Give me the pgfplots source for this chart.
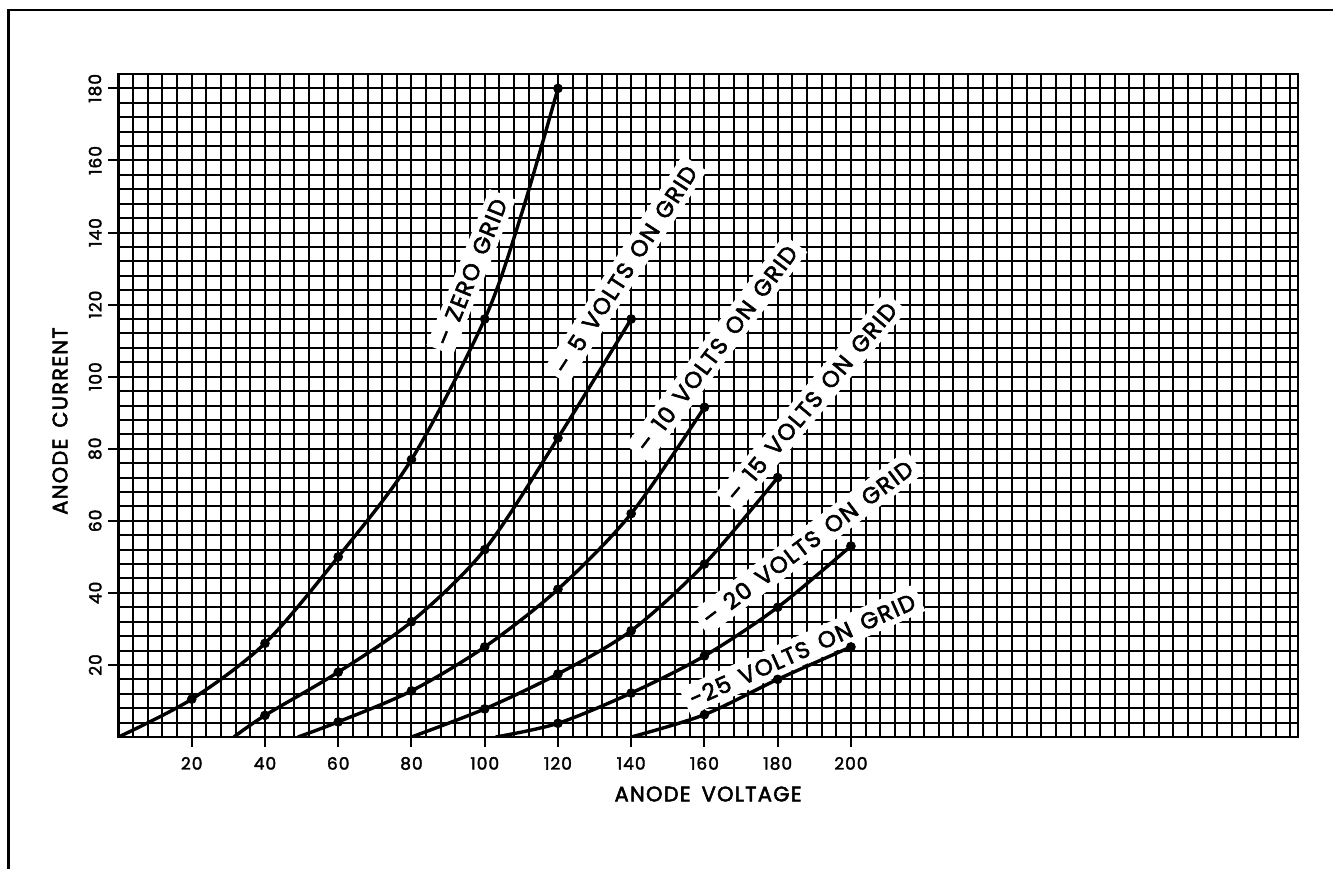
\documentclass[border=0pt]{standalone}
\usepackage{pgfplots}
\pgfplotsset{compat=1.18}
\usepackage{fontspec}
\setmainfont{Poppins}
\newfontfamily\labfont{Poppins}[FakeBold=2.5, LetterSpace=6]
\newfontfamily\axlabfont{Poppins}[FakeBold=2.5, LetterSpace=6]
\newfontfamily\tickfont{Poppins}[FakeBold=2.2, LetterSpace=6]
\newcommand{\gap}{\hspace{5.5pt}}
\begin{document}
\begin{tikzpicture}[x=1pt,y=1pt]
\path[use as bounding box] (0,0) rectangle (666.5,434.5);
\draw[line width=1.2pt] (4.2,0) -- (4.2,429.5) -- (666.5,429.5);
\begin{axis}[
  at={(59.25pt,66pt)}, anchor=south west,
  scale only axis, width=589.6pt, height=331.5pt,
  xmin=0, xmax=322, ymin=0, ymax=184,
  xtick={20,40,...,200}, ytick={20,40,...,180},
  minor xtick={0,4,...,320}, minor ytick={0,4,...,184},
  grid=both,
  minor grid style={black, line width=1.0pt},
  major grid style={black, line width=1.0pt},
  axis line style={line width=1.2pt},
  tick pos=left, tick align=outside,
  major tick length=5pt, minor tick length=0pt,
  tick style={black, line width=1.0pt},
  /pgf/number format/assume math mode=true,
  ticklabel style={font=\fontsize{8.5}{10}\tickfont},
  yticklabel style={rotate=90, anchor=south},
  xticklabel style={yshift=-1.5pt},
  xlabel={ANODE\gap VOLTAGE}, ylabel={ANODE\gap CURRENT},
  label style={font=\fontsize{10.5}{12}\axlabfont},
  xlabel style={at={(axis description cs:0.5,-0.086)}, anchor=center},
  ylabel style={at={(axis description cs:-0.0496,0.4766)}, anchor=center},
]
% zero grid
\addplot[black, line width=1.7pt, smooth] coordinates {(0,0)(20,10.5)(40,26)(60,50)(80,77)(100,116)(110,145)(120,180)};
\addplot[black, only marks, mark=*, mark size=2.2pt] coordinates {(20,10.5)(40,26)(60,50)(80,77)(100,116)(120,180)};
% -5
\addplot[black, line width=1.7pt, smooth] coordinates {(31.5,0)(40,6)(60,18)(80,32)(100,52)(120,83)(140,116)};
\addplot[black, only marks, mark=*, mark size=2.2pt] coordinates {(40,6)(60,18)(80,32)(100,52)(120,83)(140,116)};
% -10
\addplot[black, line width=1.7pt, smooth] coordinates {(49,0)(60,4.2)(80,12.8)(100,25)(120,41)(140,62)(160,91.5)};
\addplot[black, only marks, mark=*, mark size=2.2pt] coordinates {(60,4.2)(80,12.8)(100,25)(120,41)(140,62)(160,91.5)};
% -15
\addplot[black, line width=1.7pt, smooth] coordinates {(80,0)(100,7.8)(120,17.5)(140,29.5)(160,48)(180,72)};
\addplot[black, only marks, mark=*, mark size=2.2pt] coordinates {(100,7.8)(120,17.5)(140,29.5)(160,48)(180,72)};
% -20
\addplot[black, line width=1.7pt, smooth] coordinates {(103,0)(120,3.8)(140,12.2)(160,22.5)(180,36)(200,53)};
\addplot[black, only marks, mark=*, mark size=2.2pt] coordinates {(120,3.8)(140,12.2)(160,22.5)(180,36)(200,53)};
% -25
\addplot[black, line width=1.7pt, smooth] coordinates {(140,0)(160,6.2)(180,16)(200,25)};
\addplot[black, only marks, mark=*, mark size=2.2pt] coordinates {(160,6.2)(180,16)(200,25)};

\tikzset{lab/.style={fill=white, inner sep=3pt, font=\fontsize{11.5}{12}\labfont}}
\node[lab, rotate=68] at (axis cs:96.3,129) {–\gap ZERO\gap GRID};
\node[lab, rotate=57] at (axis cs:138.4,129.7) {–\gap 5\gap VOLTS\gap ON\gap GRID};
\node[lab, rotate=53] at (axis cs:163.3,107.8) {–\gap 10\gap VOLTS\gap ON\gap GRID};
\node[lab, rotate=50] at (axis cs:189.2,93) {–\gap 15\gap VOLTS\gap ON\gap GRID};
\node[lab, rotate=37] at (axis cs:188.1,53.9) {–\gap 20\gap VOLTS\gap ON\gap GRID};
\node[lab, rotate=24] at (axis cs:186.7,24.2) {-25\gap VOLTS\gap ON\gap GRID};
\end{axis}
\end{tikzpicture}
\end{document}
